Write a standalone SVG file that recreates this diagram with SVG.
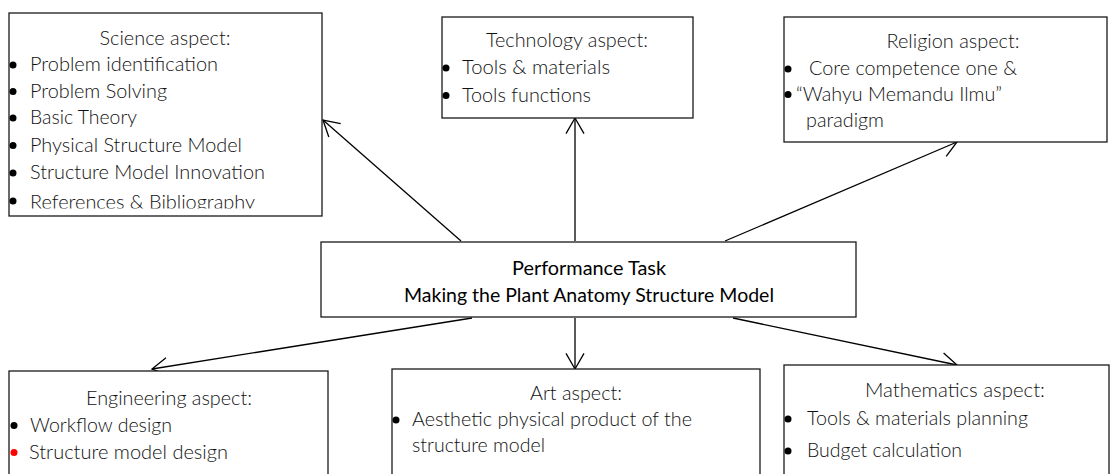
<svg xmlns="http://www.w3.org/2000/svg" width="1112" height="474" viewBox="0 0 1112 474">
  <style>
    .box { fill: #ffffff; stroke: #1a1a1a; stroke-width: 1.3; }
    .t { font-family: Lato, "Open Sans", sans-serif; font-weight: 300; font-size: 19.5px; fill: #111111; }
    .c { text-anchor: middle; }
    .main { font-family: Lato, "Open Sans", sans-serif; font-weight: 400; font-size: 19.5px; fill: #000000; text-anchor: middle; }
    .dot { fill: #000000; }
    .red { fill: #ff0000; }
    .link { fill: none; stroke: #000000; stroke-width: 1.3; }
  </style>
  <defs>
    <marker id="arrow" markerUnits="userSpaceOnUse" markerWidth="20" markerHeight="22" viewBox="-18 -11 20 22" refX="0" refY="0" orient="auto" overflow="visible">
      <path d="M-15.6,-9 L0,0 L-15.6,9" fill="none" stroke="#000000" stroke-width="1.3"/>
    </marker>
    <clipPath id="scienceClip">
      <rect x="9" y="13" width="313" height="195.5"/>
    </clipPath>
  </defs>

  <rect width="1112" height="474" fill="#ffffff"/>

  <!-- connectors -->
  <g id="connectors">
    <line class="link" x1="461" y1="241" x2="323" y2="120" marker-end="url(#arrow)"/>
    <line class="link" x1="575" y1="241" x2="575" y2="118" marker-end="url(#arrow)"/>
    <line class="link" x1="725" y1="241" x2="957" y2="142" marker-end="url(#arrow)"/>
    <line class="link" x1="472" y1="318" x2="152" y2="369" marker-end="url(#arrow)"/>
    <line class="link" x1="575" y1="318" x2="575" y2="369" marker-end="url(#arrow)"/>
    <line class="link" x1="733" y1="318" x2="957" y2="365" marker-end="url(#arrow)"/>
  </g>

  <!-- science -->
  <g id="science">
    <rect class="box" x="9" y="13" width="313" height="203"/>
    <text class="t c" x="165" y="45" textLength="131" lengthAdjust="spacingAndGlyphs">Science aspect:</text>
    <g clip-path="url(#scienceClip)">
      <circle class="dot" cx="13" cy="65" r="3.5"/>
      <text class="t" x="30" y="71" textLength="188" lengthAdjust="spacingAndGlyphs">Problem identification</text>
      <circle class="dot" cx="13" cy="91.5" r="3.5"/>
      <text class="t" x="30" y="97.5" textLength="137" lengthAdjust="spacingAndGlyphs">Problem Solving</text>
      <circle class="dot" cx="13" cy="118" r="3.5"/>
      <text class="t" x="30" y="124" textLength="107" lengthAdjust="spacingAndGlyphs">Basic Theory</text>
      <circle class="dot" cx="13" cy="145.5" r="3.5"/>
      <text class="t" x="30" y="151.5" textLength="212" lengthAdjust="spacingAndGlyphs">Physical Structure Model</text>
      <circle class="dot" cx="13" cy="173" r="3.5"/>
      <text class="t" x="30" y="179" textLength="235" lengthAdjust="spacingAndGlyphs">Structure Model Innovation</text>
      <circle class="dot" cx="13" cy="201" r="3.5"/>
      <text class="t" x="30" y="209" textLength="225" lengthAdjust="spacingAndGlyphs">References &amp; Bibliography</text>
    </g>
  </g>

  <!-- technology -->
  <g id="technology">
    <rect class="box" x="442" y="17" width="251" height="101"/>
    <text class="t c" x="567" y="47" textLength="162" lengthAdjust="spacingAndGlyphs">Technology aspect:</text>
    <circle class="dot" cx="446" cy="68" r="3.5"/>
    <text class="t" x="462" y="74" textLength="148" lengthAdjust="spacingAndGlyphs">Tools &amp; materials</text>
    <circle class="dot" cx="446" cy="95.5" r="3.5"/>
    <text class="t" x="462" y="101.5" textLength="129" lengthAdjust="spacingAndGlyphs">Tools functions</text>
  </g>

  <!-- religion -->
  <g id="religion">
    <rect class="box" x="784" y="17" width="323" height="125"/>
    <text class="t c" x="953" y="48" textLength="133" lengthAdjust="spacingAndGlyphs">Religion aspect:</text>
    <circle class="dot" cx="788" cy="69" r="3.5"/>
    <text class="t" x="809" y="75" textLength="208" lengthAdjust="spacingAndGlyphs">Core competence one &amp;</text>
    <circle class="dot" cx="788" cy="94.5" r="3.5"/>
    <text class="t" x="796" y="100.5" textLength="206" lengthAdjust="spacingAndGlyphs">“Wahyu Memandu Ilmu”</text>
    <text class="t" x="806" y="127" textLength="78" lengthAdjust="spacingAndGlyphs">paradigm</text>
  </g>

  <!-- performance task -->
  <g id="task">
    <rect class="box" x="321" y="242" width="535" height="75"/>
    <text class="main" x="589" y="275" textLength="154" lengthAdjust="spacingAndGlyphs">Performance Task</text>
    <text class="main" x="589" y="302" textLength="370" lengthAdjust="spacingAndGlyphs">Making the Plant Anatomy Structure Model</text>
  </g>

  <!-- engineering -->
  <g id="engineering">
    <rect class="box" x="9" y="371" width="319" height="110"/>
    <text class="t c" x="169" y="405" textLength="166" lengthAdjust="spacingAndGlyphs">Engineering aspect:</text>
    <circle class="dot" cx="14" cy="425.5" r="3.5"/>
    <text class="t" x="30" y="431.5" textLength="142" lengthAdjust="spacingAndGlyphs">Workflow design</text>
    <circle class="red" cx="14" cy="452.5" r="3.5"/>
    <text class="t" x="29" y="458.5" textLength="199" lengthAdjust="spacingAndGlyphs">Structure model design</text>
  </g>

  <!-- art -->
  <g id="art">
    <rect class="box" x="392" y="369" width="368" height="110"/>
    <text class="t c" x="576" y="400" textLength="92" lengthAdjust="spacingAndGlyphs">Art aspect:</text>
    <circle class="dot" cx="396" cy="420" r="3.5"/>
    <text class="t" x="412" y="426" textLength="280" lengthAdjust="spacingAndGlyphs">Aesthetic physical product of the</text>
    <text class="t" x="412" y="452" textLength="133" lengthAdjust="spacingAndGlyphs">structure model</text>
  </g>

  <!-- mathematics -->
  <g id="mathematics">
    <rect class="box" x="784" y="365" width="325" height="115"/>
    <text class="t c" x="955" y="397" textLength="180" lengthAdjust="spacingAndGlyphs">Mathematics aspect:</text>
    <circle class="dot" cx="788" cy="419" r="3.5"/>
    <text class="t" x="807" y="425" textLength="221" lengthAdjust="spacingAndGlyphs">Tools &amp; materials planning</text>
    <circle class="dot" cx="788" cy="451" r="3.5"/>
    <text class="t" x="807" y="457" textLength="155" lengthAdjust="spacingAndGlyphs">Budget calculation</text>
  </g>
</svg>
